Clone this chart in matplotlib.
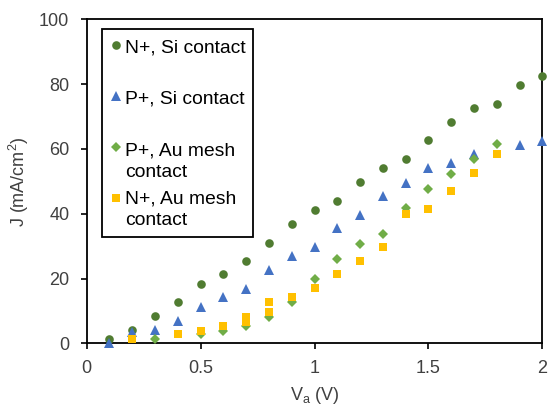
import matplotlib
matplotlib.use("Agg")
import matplotlib.pyplot as plt

plt.rcParams['font.family'] = ['Liberation Sans', 'DejaVu Sans']

# ---- data ----
v_n_si = [0.1, 0.2, 0.3, 0.4, 0.5, 0.6, 0.7, 0.8, 0.9, 1.0,
          1.1, 1.2, 1.3, 1.4, 1.5, 1.6, 1.7, 1.8, 1.9, 2.0]
j_n_si = [1.2, 4.1, 8.4, 12.6, 18.4, 21.3, 25.5, 31.1, 36.9, 41.2,
          44.0, 49.7, 54.1, 56.8, 62.6, 68.2, 72.5, 73.9, 79.7, 82.5]

v_p_si = [0.1, 0.2, 0.3, 0.4, 0.5, 0.6, 0.7, 0.8, 0.9, 1.0,
          1.1, 1.2, 1.3, 1.4, 1.5, 1.6, 1.7, 1.9, 2.0]
j_p_si = [0.0, 3.4, 4.1, 6.8, 11.3, 14.2, 16.9, 22.6, 26.9, 29.8,
          35.5, 39.7, 45.4, 49.6, 54.0, 55.5, 58.5, 61.2, 62.4]

v_p_au = [0.3, 0.5, 0.6, 0.7, 0.8, 0.9, 1.0, 1.1, 1.2, 1.3,
          1.4, 1.5, 1.6, 1.7, 1.8]
j_p_au = [1.2, 2.8, 3.9, 5.3, 8.2, 12.8, 19.9, 26.0, 30.5, 33.6,
          41.8, 47.5, 52.3, 56.8, 61.4]

v_n_au = [0.2, 0.4, 0.5, 0.6, 0.7, 0.7, 0.8, 0.8, 0.9, 1.0,
          1.1, 1.2, 1.3, 1.4, 1.5, 1.6, 1.7, 1.8]
j_n_au = [1.2, 2.9, 3.9, 5.3, 8.2, 6.7, 12.6, 9.8, 14.2, 17.0,
          21.3, 25.5, 29.7, 39.8, 41.4, 47.0, 52.7, 58.4]

labels = ["N+, Si contact", "P+, Si contact", "P+, Au mesh", "N+, Au mesh\ncontact"]
x_ticks = [0, 0.5, 1, 1.5, 2]
x_tick_labels = ["0", "0.5", "1", "1.5", "2"]
y_ticks = [0, 20, 40, 60, 80, 100]

c_dark = '#507C31'
c_blue = '#4472C4'
c_green = '#70AD47'
c_gold = '#FFC000'

fig = plt.figure(figsize=(5.5, 4.12), dpi=100)
ax = fig.add_axes([86.7/550, (412-343.3)/412, (542.3-86.7)/550, (343.3-19.3)/412])

h1, = ax.plot(v_n_si, j_n_si, 'o', color=c_dark, ms=6.2, mew=0, zorder=3, clip_on=False)
h2, = ax.plot(v_p_si, j_p_si, '^', color=c_blue, ms=6.8, mew=0, zorder=3, clip_on=False)
h3, = ax.plot(v_p_au, j_p_au, 'D', color=c_green, ms=4.6, mew=0, zorder=3, clip_on=False)
h4, = ax.plot(v_n_au, j_n_au, 's', color=c_gold, ms=6.2, mew=0, zorder=3, clip_on=False)

ax.set_xlim(0, 2)
ax.set_ylim(0, 100)
ax.set_xticks(x_ticks)
ax.set_xticklabels(x_tick_labels)
ax.set_yticks(y_ticks)

tc = '#404040'
ax.tick_params(axis='both', direction='out', length=4, width=1.2, color='black',
               labelsize=13, labelcolor=tc)
ax.tick_params(axis='y', pad=8.5)
ax.tick_params(axis='x', pad=8)
for s in ax.spines.values():
    s.set_linewidth(1.3)
    s.set_color('black')

ax.set_xlabel(r"V$_{\mathregular{a}}$ (V)", fontsize=13, color=tc)
ax.set_ylabel(r"J (mA/cm$^{\mathregular{2}}$)", fontsize=13, color=tc)
ax.xaxis.set_label_coords(0.5, (343.3-385.5)/324)
ax.yaxis.set_label_coords((31-86.7)/455.6, 0.5)

fs = 13.9
leg = ax.legend([h1, h2, h3, h4], labels, loc='upper left',
                bbox_to_anchor=((102.3-86.7)/455.6, (343.3-29.3)/324),
                borderaxespad=0, fontsize=fs, frameon=True, fancybox=False,
                edgecolor='black', framealpha=1, borderpad=0.4,
                handlelength=0.6, handleheight=1.1, handletextpad=0.17,
                labelspacing=1.62, numpoints=1)
leg.get_frame().set_linewidth(1.3)
leg.set_zorder(6)
texts = leg.get_texts()
for t in texts:
    t.set_color('black')
texts[3].set_linespacing(1.35)
for col in leg._legend_handle_box.get_children():
    items = col.get_children()
    if len(items) == 4:
        items[3].align = 'top'

ax.annotate("contact", xy=(0, 1), xycoords=texts[2], xytext=(0, -21.7),
            textcoords='offset pixels', ha='left', va='top', fontsize=fs,
            color='black', zorder=10, annotation_clip=False)

fig.savefig("out.png", dpi=100)
